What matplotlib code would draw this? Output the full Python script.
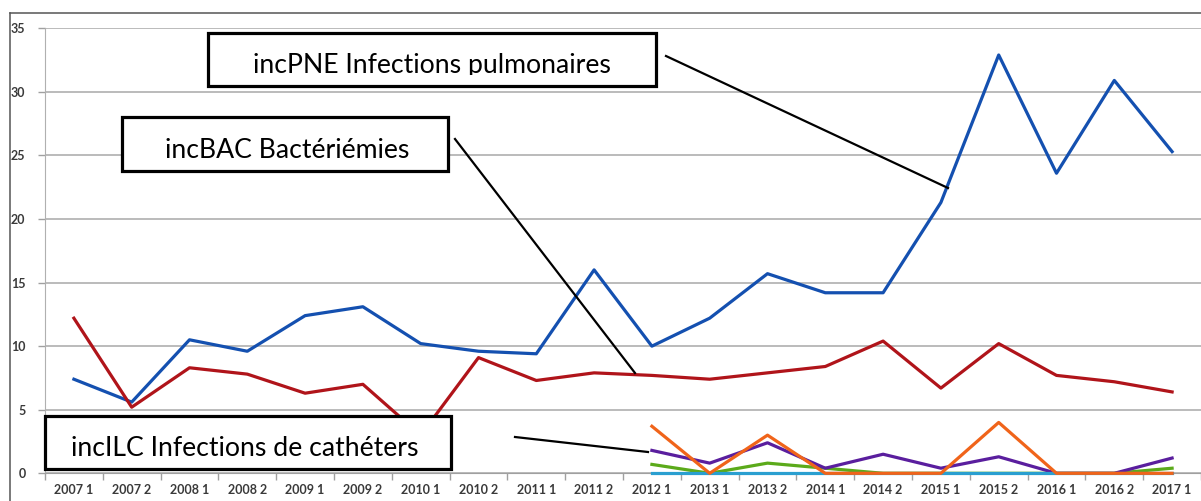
import numpy as np
import matplotlib
matplotlib.use("Agg")
import matplotlib.pyplot as plt
from matplotlib.patches import Rectangle
from matplotlib.lines import Line2D

plt.rcParams['font.family'] = ['Lato', 'DejaVu Sans']

# Half-year periods
periods = ["2007 1", "2007 2", "2008 1", "2008 2", "2009 1", "2009 2",
           "2010 1", "2010 2", "2011 1", "2011 2", "2012 1", "2013 1",
           "2013 2", "2014 1", "2014 2", "2015 1", "2015 2", "2016 1",
           "2016 2", "2017 1"]

y_ticks = [0, 5, 10, 15, 20, 25, 30, 35]

# Incidence per series
inc_pne = [7.4, 5.6, 10.5, 9.6, 12.4, 13.1, 10.2, 9.6, 9.4, 16.0,
           10.0, 12.2, 15.7, 14.2, 14.2, 21.3, 32.9, 23.6, 30.9, 25.3]
inc_bac = [12.2, 5.2, 8.3, 7.8, 6.3, 7.0, 3.0, 9.1, 7.3, 7.9,
           7.7, 7.4, 7.9, 8.4, 10.4, 6.7, 10.2, 7.7, 7.2, 6.4]
ilc_orange = [None] * 10 + [3.7, 0.0, 3.0, 0.0, 0.0, 0.0, 4.0, 0.0, 0.0, 0.0]
ilc_purple = [None] * 10 + [1.8, 0.8, 2.4, 0.4, 1.5, 0.4, 1.3, 0.0, 0.0, 1.2]
ilc_green = [None] * 10 + [0.7, 0.0, 0.8, 0.4, 0.0, 0.0, 0.0, 0.0, 0.0, 0.4]
ilc_cyan = [None] * 10 + [0.0] * 10

W, H = 1201, 501


def fx(px):
    return px / W


def fy(py):
    return 1 - py / H


fig = plt.figure(figsize=(W / 100, H / 100), dpi=100)
fig.patch.set_facecolor("white")

# Outer chart frame (top and left edges visible)
fig.add_artist(Line2D([fx(10), fx(W)], [fy(12.5), fy(12.5)], color="#555555", lw=1.1))
fig.add_artist(Line2D([fx(10), fx(10)], [fy(12.5), fy(H)], color="#555555", lw=1.1))

ax = fig.add_axes([fx(45), fy(473.3), fx(W) - fx(45), fy(28.3) - fy(473.3)])
x = np.arange(len(periods)) + 0.5


def series(vals):
    return np.array([np.nan if v is None else v for v in vals], dtype=float)


lw = 2.3
ax.plot(x, series(ilc_green), color="#5BAA1A", lw=lw, clip_on=False, zorder=3)
ax.plot(x, series(ilc_purple), color="#5A1E9E", lw=lw, clip_on=False, zorder=3.1)
ax.plot(x, series(ilc_cyan), color="#2A9FD0", lw=lw, clip_on=False, zorder=3.2)
ax.plot(x, series(ilc_orange), color="#F0641A", lw=lw, clip_on=False, zorder=3.3)
ax.plot(x, series(inc_pne), color="#1450B0", lw=lw, clip_on=False, zorder=3.4)
ax.plot(x, series(inc_bac), color="#B0141A", lw=lw, clip_on=False, zorder=3.5)

ax.set_xlim(0, len(periods))
ax.set_ylim(0, 35)
ax.set_yticks(y_ticks)
ax.set_yticklabels([str(v) for v in y_ticks])
ax.set_xticks(x)
ax.set_xticklabels(periods)
ax.set_xticks(np.arange(len(periods) + 1), minor=True)

ax.tick_params(axis="x", which="major", length=0, pad=8, labelsize=9,
               labelcolor="#3a3a3a")
ax.tick_params(axis="x", which="minor", length=5, width=1, color="#a0a0a0")
ax.tick_params(axis="y", length=5, width=1, color="#a0a0a0", pad=9,
               labelsize=9, labelcolor="#3a3a3a")
for lab in ax.get_xticklabels() + ax.get_yticklabels():
    lab.set_fontweight("bold")

ax.grid(axis="y", color="#a8a8a8", lw=1.1)
ax.set_axisbelow(True)
for side in ("top", "right"):
    ax.spines[side].set_visible(False)
ax.spines["left"].set_color("#b0b0b0")
ax.spines["bottom"].set_color("#a0a0a0")
ax.patch.set_alpha(0)


def label_box(x0, y0, x1, y1, text, tx, ty, clip_bottom=None):
    rect = Rectangle((fx(x0), fy(y1)), fx(x1) - fx(x0), fy(y0) - fy(y1),
                     transform=fig.transFigure, facecolor="white",
                     edgecolor="black", lw=2.3, zorder=10)
    fig.add_artist(rect)
    t = fig.text(fx(tx), fy(ty), text, fontsize=19.2, color="black",
                 ha="left", va="baseline", zorder=11)
    if clip_bottom is not None:
        clip = Rectangle((fx(x0), fy(clip_bottom)), fx(x1) - fx(x0),
                         fy(y0) - fy(clip_bottom), transform=fig.transFigure)
        t.set_clip_path(clip)
    return t


def leader(p0, p1):
    fig.add_artist(Line2D([fx(p0[0]), fx(p1[0])], [fy(p0[1]), fy(p1[1])],
                          color="black", lw=1.6, zorder=12))


label_box(208, 33, 656, 85.5, "incPNE Infections pulmonaires", 253, 73.5,
          clip_bottom=74.5)
leader((666, 56), (948, 188))

label_box(122.5, 117, 448, 170.5, "incBAC Bactériémies", 165, 157.5)
leader((455, 139), (635, 373))

label_box(45, 415.5, 451, 468.5, "incILC Infections de cathéters", 71, 455.5)
leader((515, 437), (648, 452))

fig.savefig("out.png", dpi=100)
